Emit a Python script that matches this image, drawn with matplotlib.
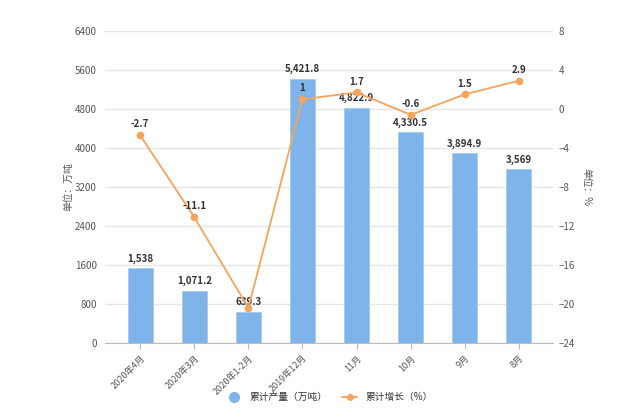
import matplotlib.pyplot as plt
import numpy as np

plt.rcParams['font.family'] = ['Noto Sans CJK SC', 'DejaVu Sans']

categories = ['2020年4月', '2020年3月', '2020年1-2月', '2019年12月', '11月', '10月', '9月', '8月']
output = [1538, 1071.2, 639.3, 5421.8, 4822.9, 4330.5, 3894.9, 3569]
output_labels = ['1,538', '1,071.2', '639.3', '5,421.8', '4,822.9', '4,330.5', '3,894.9', '3,569']
growth = [-2.7, -11.1, -20.4, 1, 1.7, -0.6, 1.5, 2.9]
growth_labels = ['-2.7', '-11.1', '', '1', '1.7', '-0.6', '1.5', '2.9']

bar_color = '#7eb4ea'
line_color = '#f6a35c'
grid_color = '#e6e6e6'
text_color = '#555555'

fig = plt.figure(figsize=(6.33, 4.2), dpi=100)
ax = fig.add_axes([105 / 633, 1 - 343 / 420, 448 / 633, 312 / 420])
ax2 = ax.twinx()

x = np.arange(len(categories))
ax.bar(x, output, width=0.46, color=bar_color, edgecolor='#9ec8f0', linewidth=0.5, zorder=2)
for xi, v, lab in zip(x, output, output_labels):
    ax.text(xi, v + 90, lab, ha='center', va='bottom', fontsize=7, fontweight='bold', color='#333333', zorder=5)

ax.set_ylim(0, 6400)
ax.set_yticks(np.arange(0, 6401, 800))
ax.set_xlim(-0.65, 7.63)
ax.set_xticks(x)
ax.set_xticklabels(categories, rotation=45, ha='right', rotation_mode='anchor', fontsize=6.5, color=text_color)
ax.tick_params(axis='y', length=0, labelsize=7, colors=text_color, pad=6)
ax.tick_params(axis='x', length=4, color='#bbbbbb')
ax.grid(axis='y', color=grid_color, linewidth=1, zorder=0)
ax.set_axisbelow(True)
for s in ['top', 'left', 'right']:
    ax.spines[s].set_visible(False)
ax.spines['bottom'].set_color('#bbbbbb')
ax.set_ylabel('单位：万吨', fontsize=7, color=text_color, labelpad=1)

ax2.plot(x, growth, color=line_color, linewidth=1.3, marker='o', markersize=4.5, zorder=4)
for xi, v, lab in zip(x, growth, growth_labels):
    if lab:
        ax2.text(xi, v + 0.6, lab, ha='center', va='bottom', fontsize=7, fontweight='bold', color='#333333', zorder=5)
ax2.set_ylim(-24, 8)
ax2.set_yticks(np.arange(-24, 9, 4))
ax2.tick_params(axis='y', length=0, labelsize=7, colors=text_color, pad=4)
for s in ['top', 'left', 'right', 'bottom']:
    ax2.spines[s].set_visible(False)
ax2.set_ylabel('单位：%', fontsize=7, color=text_color, rotation=-90, labelpad=12)

# legend
h1 = plt.Line2D([], [], marker='o', linestyle='none', color=bar_color, markersize=7)
h2 = plt.Line2D([], [], marker='o', color=line_color, linewidth=1.3, markersize=4)
fig.legend([h1, h2], ['累计产量（万吨）', '累计增长（%）'], loc='center', bbox_to_anchor=(0.52, 1 - 397 / 420),
           ncol=2, frameon=False, fontsize=7, handlelength=1.6, columnspacing=1.5, labelcolor='#333333')

fig.savefig('out.png', dpi=100)
